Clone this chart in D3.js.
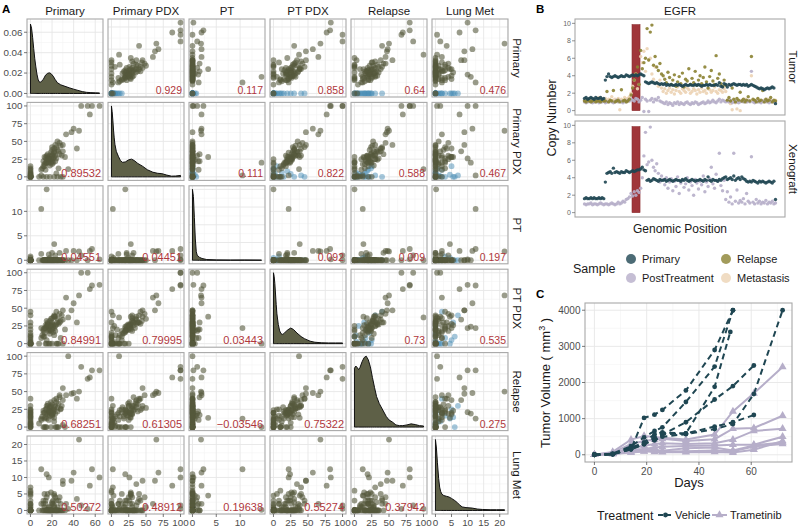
<!DOCTYPE html>
<html><head><meta charset="utf-8">
<script src="https://cdn.jsdelivr.net/npm/d3@7"></script>
<style>body{margin:0;background:#fff} svg{font-family:"Liberation Sans",Arial,Helvetica,sans-serif}</style>
</head><body><svg id="c" width="800" height="528"></svg>
<script>
// ===== Panel A data (one entry per sample) =====
const varNames = ["Primary","Primary PDX","PT","PT PDX","Relapse","Lung Met"];
const primary = [0,0,0,0,0,0,0,0,0,0,0,0,0,0,0,0,0,0,0,0, 0,0, 64,57,55,47,53,45,40,38,35,30,43,33, 15,10,22,
 12,14,15,16,17,18,19,20,21,22,23,24,25,26,27,28,13,11,10,15,17,18,19,20,21,16,14,22,23,24,12,18,20,25,30,17,15,19,21,27,13,16,20,22,29,
 8,12,15,18,22,25,28,30,14,20,24,17,26,13,19,32,23];
const primaryPDX = [0,0,2,5,10,15,0,3,0,1,8,0,12,0,4,0,6,0,2,0, 0,2, 100,100,88,100,100,65,68,63,11,45,40,60, 20,2,28,
 15,20,25,28,22,30,35,38,32,40,45,42,50,36,48,44,18,12,10,20,26,24,28,22,26,32,27,34,30,26,22,16,30,38,36,20,30,25,20,32,28,24,42,36,30,
 0,0,0,0,0,0,0,0,10,18,5,25,12,15,20,28,22];
const pt = [0,0,0,0,0,0,0,0.5,0,0,0,0,0,0.8,0,0,0,0,0,0, 0,0, 0.2,2.3,1.9,1.0,0,1.8,1.9,0,0,0,0,1.9, 14.5,10.5,3.3,
 0,0,0,0,1.2,0,0,0,0,0,0,0,0,0,0,0,0,0,1.3,0,0,0.5,0,1.5,0,0,0,0,1.0,0,0,0,0,0,0,0,0,0,0,1.5,0,0,0,0,0,
 0,0,0,0,0,0,0,0,0,0,0,0,0,0,0,0,0];
const ptPDX = [0,0,0,2,0,5,10,0,15,0,20,3,0,8,25,0,12,30,40,45, 0,0, 83,82,77,100,100,68,57,47,37,47,30,65, 0,22,38,
 18,22,25,28,20,32,35,30,26,40,38,45,35,28,42,32,15,12,8,24,22,19,26,20,24,30,26,22,18,27,20,14,36,30,34,18,32,25,16,30,22,27,28,38,40,
 0,10,5,0,12,0,8,0,0,0,0,0,0,10,18,20,25];
const relapse = [0,5,10,15,20,25,0,12,22,8,18,3,24,16,6,20,2,14,30,40, 0,4, 80,80,70,85,68,50,48,47,100,55,40,45, 0,12,13,
 20,25,30,18,22,28,35,32,24,38,30,40,27,33,45,26,12,15,10,19,21,16,23,17,20,30,14,25,19,35,23,28,18,22,38,24,26,30,20,42,20,33,24,28,30,
 5,0,12,20,8,0,25,3,0,15,0,10,0,0,0,0,0];
const lungMet = [0,0,1,0,2,5,6,4.5,0,1.5,0,0,0.5,3,0,0,0,5.5,7,2, 0,0, 10,12.5,7.5,1.5,0.5,21.5,11.5,9,0.5,9,3.5,2, 0.2,12.5,4.5,
 2,3,4,5,0,1,0,2.5,0,5,0,3,1,0,4,0,1,0,2,11,10,0,5.5,0,3,0,2,0,4,0,3,0,2,0,8,1,0,0,2,0,5,0,0,1.5,0,
 0,0,0,0,1,0,2,0,0,0,0,0,3,0,0,0,0];
const flagged = primary.map((v,k)=>k<20?1:0);
const tickVals = [[0,20,40,60],[0,25,50,75,100],[0,5,10],[0,25,50,75,100],[0,25,50,75,100],[0,5,10,15,20]];
const densTicks = [0,0.02,0.04,0.06];
// diagonal densities: [value, density] (Primary absolute, others relative)
const densPrimary = [[0,0.068],[1,0.064],[2,0.055],[3,0.044],[4,0.034],[5,0.026],[6,0.019],[7,0.014],[8,0.0115],[9,0.011],[10,0.0115],[12,0.014],[14,0.018],[16,0.0198],[17.5,0.0202],[19,0.0195],[21,0.017],[23,0.0135],[25,0.0105],[28,0.0085],[32,0.007],[36,0.0055],[40,0.0042],[44,0.003],[48,0.0018],[52,0.0011],[56,0.0008],[60,0.0006],[64,0.0005]];
const densPrimaryPDX = [[0,1],[1,0.92],[2,0.8],[3,0.66],[4,0.55],[5,0.46],[7,0.36],[10,0.29],[13,0.23],[16,0.205],[20,0.21],[25,0.24],[29,0.25],[33,0.23],[38,0.19],[45,0.15],[52,0.1],[60,0.065],[67,0.05],[73,0.045],[80,0.025],[87,0.01],[93,0.012],[100,0.02]];
const densPT = [[0,1],[0.2,0.9],[0.4,0.6],[0.6,0.3],[0.8,0.12],[1.0,0.07],[1.5,0.04],[2,0.025],[3,0.01],[5,0.005],[8,0.003],[11,0.004],[14.5,0.002]];
const densPTPDX = [[0,1],[1,0.95],[2,0.85],[3,0.7],[4,0.55],[5,0.42],[7,0.27],[9,0.18],[11,0.14],[13.5,0.13],[16,0.15],[20,0.19],[25,0.22],[29,0.2],[34,0.15],[40,0.1],[45,0.07],[53,0.035],[60,0.02],[70,0.012],[80,0.01],[90,0.01],[100,0.01]];
const densRelapse = [[0,0.83],[2,0.86],[4,0.84],[6,0.81],[8,0.84],[11,0.92],[14,0.98],[17,1.0],[20,0.95],[23,0.85],[26,0.7],[29,0.56],[32,0.43],[36,0.33],[41,0.24],[46,0.15],[50,0.1],[55,0.07],[60,0.03],[65,0.02],[70,0.02],[76,0.03],[82,0.045],[88,0.035],[94,0.02],[100,0.015]];
const densLungMet = [[0,1],[0.3,0.88],[0.6,0.68],[1,0.45],[1.3,0.33],[1.6,0.27],[2,0.23],[2.6,0.21],[3.4,0.2],[4.2,0.19],[5,0.17],[6,0.14],[6.8,0.11],[7.6,0.075],[8.3,0.05],[9.5,0.04],[11.5,0.033],[13,0.02],[14.6,0.014],[17,0.01],[19,0.01],[21.5,0.01]];
const corrUpper = ["0.929","0.117","0.858","0.64","0.476","0.111","0.822","0.588","0.467","0.092","0.009","0.197","0.73","0.535","0.275"];
const corrLower = ["0.89532","0.04551","0.04451","0.84991","0.79995","0.03443","0.68251","0.61305","\u22120.03546","0.75322","0.50272","0.48912","0.19638","0.55274","0.37942"];

// ===== Panel B data (copy number per genomic bin) =====
const tumorPrimary = [1.4,1.5,1.3,1.4,1.5,1.4,1.3,1.5,1.4,1.4,1.5,1.3,1.4,
 3.5,3.9,4.2,3.9,3.8,3.9,4.0,3.9,3.8,3.9,4.0,3.9,3.9,4.1,4.0,3.9,4.0,4.1,4.0,4.1,4.0,4.1,4.2,4.1,4.0,
 3.3,3.2,3.1,3.2,3.3,3.2,3.1,3.2,3.1,3.0,3.1,3.0,3.1,
 2.9,3.0,2.9,3.0,2.9,2.9,3.0,2.9,3.0,2.9,2.8,2.9,3.0,2.9,2.9,3.0,2.9,2.9,3.0,2.9,3.0,2.9,2.8,2.9,2.9,3.0,2.9,3.0,2.9,2.9,2.9,3.0,2.9,
 3.2,2.8,2.7,3.1,3.0,2.7,
 3.0,2.9,3.0,3.1,3.0,2.9,3.0,3.0,2.9,3.0,2.9,3.0,2.8,2.9,3.0,2.9,2.8,
 2.7,2.6,2.5,2.6,2.5,2.4,2.5,2.6,2.5,2.6,2.7,2.6, 0.8];
const tumorRelapse = [1.1,1.0,1.2,1.1,1.0,1.1,1.2,1.0,1.1,1.1,1.0,1.2,1.1,
 1.1,2.2,1.0,1.2,1.1,2.3,1.0,1.1,1.2,1.0,2.4,1.1,1.2,1.0,1.1,1.3,
 1.8,2.6,3.5,4.2,5.0,
 3.0,6.9,4.8,5.5,6.0,9.4,5.8,9.0,9.8,5.2,6.2,5.0,4.6,5.4,4.2,
 4.0,3.6,3.2,4.4,3.8,3.0,3.5,4.1,2.8,3.3,3.9,3.1,4.3,2.7,3.6,3.4,4.8,3.0,3.7,3.2,4.5,2.9,3.5,4.0,3.1,3.8,5.0,3.3,2.6,3.9,4.6,3.4,3.0,6.3,3.7,4.2,3.1,2.8,3.5,2.9,
 1.2,1.5,1.1,2.6,1.3,1.0,1.4,1.2,2.1,1.1,1.3,1.0,1.2,1.6,1.1,6.2,1.3,1.2,1.0,1.4,1.1,1.2,2.3,1.0,1.3,1.1,1.2,1.5,1.0,1.2,1.1];
const tumorPostTreatment = [1.0,0.9,1.0,1.1,1.0,0.9,1.0,1.0,1.1,0.9,1.0,1.0,1.1,0.9,1.0,1.0,1.1,1.0,0.9,1.0,1.2,1.0,1.1,1.0,0.9,1.1,1.0,1.2,1.1,
 1.3,1.2,1.1,1.4,1.3,1.0,1.2,1.5,-0.1,1.3,1.1,-0.1,1.2,1.4,1.0,1.3,1.2,1.5,1.1,1.0,
 0.9,0.8,1.0,0.7,0.9,0.8,0.6,0.9,0.8,1.0,0.7,0.9,0.8,0.7,0.9,1.0,0.8,0.7,0.9,0.8,1.0,0.9,0.7,0.8,0.9,1.0,0.8,0.9,1.1,0.9,1.0,1.2,1.0,0.9,1.1,1.3,1.0,1.2,1.1,1.0,
 1.1,1.0,1.2,0.9,1.0,1.1,1.0,0.9,1.0,1.1,1.0,1.2,1.0,1.1,1.0,4.5,1.0,0.9,1.1,1.0,1.0,0.9,1.1,1.0,1.2,1.0,0.9,1.0,1.1,1.0,1.0];
const tumorMetastasis = [1.2,1.3,1.1,1.2,1.4,1.2,1.3,1.1,1.2,1.5,1.2,1.3,1.2,1.4,1.1,1.3,1.2,1.6,1.2,1.3,1.1,1.4,0.1,1.3,1.2,1.5,1.3,1.4,1.6,
 2.0,2.8,3.5,4.2,2.5,3.0,6.2,5.5,6.8,4.5,7.1,5.8,6.0,4.2,3.6,5.0,3.2,2.8,3.5,2.6,
 2.2,2.5,2.0,2.3,2.6,2.1,2.4,1.9,2.3,2.7,2.2,2.0,2.5,2.3,2.1,2.6,2.4,2.0,2.2,2.5,2.3,1.9,2.4,2.1,2.6,2.2,2.3,2.0,2.5,2.4,2.1,2.3,2.7,2.2,2.0,2.4,2.3,2.1,2.5,2.2,
 1.2,1.0,0.8,0.1,1.1,0.9,0.2,1.0,0.0,1.2,1.1,1.3,1.0,1.2,1.1,4.0,1.2,1.0,1.1,1.3,1.2,1.0,1.1,1.2,1.0,1.3,1.1,1.2,1.0,1.1,1.2];
const xenoPrimary = [1.6,1.7,1.6,1.6,1.7,1.6,1.7,1.6,1.6,1.7,1.6,1.7,1.6,
 3.5,4.5,4.6,4.7,4.5,5.1,4.6,4.7,4.6,4.5,4.7,4.6,4.6,4.8,4.7,4.6,4.7,4.8,4.7,4.8,4.9,
 4.9,5.0,5.2,4.9,4.8,
 3.7,3.8,3.6,3.7,3.9,3.8,3.7,3.6,3.8,3.7,3.7,3.8,3.6,3.7,3.8,3.7,3.6,3.7,3.8,3.7,3.7,3.6,3.8,3.7,3.9,3.7,3.6,3.7,3.8,3.7,3.6,3.7,3.7,3.8,3.7,3.6,3.8,3.7,4.1,3.7,3.6,3.8,3.7,3.7,3.6,3.8,3.7,
 3.9,4.0,4.1,3.8,3.9,4.0,3.8,4.2,3.7,3.9,4.0,3.8,4.1,3.9,3.8,
 3.6,3.5,3.6,3.5,3.7,3.6,3.5,3.4,3.6,3.5,3.6,3.5,3.4,3.5,3.6,3.5,3.4,3.6, 1.5];
const xenoPostTreatment = [1.0,0.9,1.0,1.0,1.1,0.9,1.0,1.0,0.9,1.0,1.1,1.0,0.9,1.0,1.0,0.9,1.0,1.1,1.0,0.9,1.0,1.2,1.0,1.1,1.3,1.2,1.5,
 1.6,1.8,2.2,1.9,2.4,2.0,2.5,2.3,2.8,
 4.0,6.5,9.2,5.5,5.8,9.8,6.0,5.2,4.8,5.6,4.5,3.5,4.2,
 3.8,3.2,4.0,2.8,3.5,3.9,2.5,3.6,3.0,4.1,2.2,3.4,3.7,2.9,3.3,4.0,2.6,3.5,3.1,2.0,3.8,3.4,2.7,3.6,3.2,4.2,2.4,3.5,3.0,3.9,5.2,3.3,2.8,4.4,3.6,6.8,3.1,2.5,3.7,
 1.5,2.4,1.2,1.8,1.0,6.8,1.3,2.6,1.1,1.4,1.2,1.6,1.0,2.2,1.3,1.1,6.4,1.2,1.0,1.5,1.1,1.3,1.0,1.2,1.1,1.4,1.0,1.2,1.1,1.3,1.0,1.1];
const egfrRegion = [29.6, 34.6, 0, 9.85]; // bin start, bin end, ymin, ymax
const cnTicks = [0,2,4,6,8,10];
const sampleLegend = ["Primary","PostTreatment","Relapse","Metastasis"];

// ===== Panel C data =====
const days = [0,7,14,19,23,26,35,46,52,53,61,72];
const vehicleMice = [
 [0,20,150,1020,1110,1240,1780,2900,null,4000,null,null],
 [0,30,240,480,660,760,1460,2440,null,4000,null,null],
 [0,20,200,340,570,620,590,1880,3400,null,null,null],
 [0,20,180,300,420,560,900,1530,null,1900,2470,null],
 [0,10,150,290,480,570,590,780,null,900,1100,null],
 [0,20,160,300,400,500,570,710,null,850,1680,4000]];
const trametinibMice = [
 [0,80,420,520,490,470,420,560,null,1200,1700,2430],
 [0,60,300,380,420,440,380,430,null,720,740,1080],
 [0,40,200,250,300,320,300,320,null,420,660,720],
 [0,30,150,160,200,220,240,260,null,280,280,500],
 [0,30,120,140,120,110,180,200,null,120,260,340],
 [0,20,80,100,80,70,70,80,null,60,140,380],
 [0,20,60,90,150,90,100,120,null,100,230,300]];
const volTicks = [0,1000,2000,3000,4000];
const dayTicks = [0,20,40,60];

// ===== drawing =====
const svg = d3.select("#c");
const defs = svg.append("defs");
const TXT = "#1a1a1a", AX = "#4d4d4d";
const OLIVE = "#55583c", BLUE = "#4a8db5", RED = "#b0373c";
const C_PRI = "#1f4652", C_REL = "#8b8232", C_PT = "#b6aec9", C_MET = "#ecd3b4";

function expand(d){const p=(d[1]-d[0])*0.05;return [d[0]-p,d[1]+p];}
function minors(t, dom){const s=t[1]-t[0],o=[];for(let v=t[0]-s/2;v<=dom[1];v+=s) if(v>=dom[0]) o.push(v);return o;}
function grid(g, xsc, ysc, xt, yt, x0, x1, y0, y1){
  const xd=xsc.domain(), yd=ysc.domain();
  minors(xt,xd).forEach(v=>g.append("line").attr("x1",xsc(v)).attr("x2",xsc(v)).attr("y1",y0).attr("y2",y1).attr("stroke","#f3f3f3").attr("stroke-width",0.6));
  minors(yt,yd).forEach(v=>g.append("line").attr("y1",ysc(v)).attr("y2",ysc(v)).attr("x1",x0).attr("x2",x1).attr("stroke","#f3f3f3").attr("stroke-width",0.6));
  xt.filter(v=>v>=xd[0]&&v<=xd[1]).forEach(v=>g.append("line").attr("x1",xsc(v)).attr("x2",xsc(v)).attr("y1",y0).attr("y2",y1).attr("stroke","#e6e6e6").attr("stroke-width",0.9));
  yt.filter(v=>v>=yd[0]&&v<=yd[1]).forEach(v=>g.append("line").attr("y1",ysc(v)).attr("y2",ysc(v)).attr("x1",x0).attr("x2",x1).attr("stroke","#e6e6e6").attr("stroke-width",0.9));
}

// ---- Panel A ----
const cols = [primary, primaryPDX, pt, ptPDX, relapse, lungMet];
const dens = [densPrimary, densPrimaryPDX, densPT, densPTPDX, densRelapse, densLungMet];
const AX0=27, SX=81, PW=76, AY0=19, SY=83.4, PH=78;
const xs = cols.map((c,j)=>d3.scaleLinear().domain(expand(d3.extent(c))).range([AX0+j*SX, AX0+j*SX+PW]));
const ys = cols.map((c,i)=>d3.scaleLinear().domain(expand(d3.extent(c))).range([AY0+i*SY+PH, AY0+i*SY]));
const dy0 = d3.scaleLinear().domain(expand([0,0.0695])).range([AY0+PH, AY0]);
let ku=0, kl=0;
for(let i=0;i<6;i++) for(let j=0;j<6;j++){
  const x0=AX0+j*SX, y0=AY0+i*SY;
  const id="clA"+i+"_"+j;
  defs.append("clipPath").attr("id",id).append("rect").attr("x",x0).attr("y",y0).attr("width",PW).attr("height",PH);
  const g = svg.append("g");
  g.append("rect").attr("x",x0).attr("y",y0).attr("width",PW).attr("height",PH).attr("fill","#fff");
  const inner = g.append("g").attr("clip-path","url(#"+id+")");
  if(i===j){
    const ysc = i===0 ? dy0 : d3.scaleLinear().domain(expand([0,1])).range([y0+PH,y0]);
    grid(inner, xs[j], ysc, tickVals[j], i===0?densTicks:[0,0.25,0.5,0.75,1], x0, x0+PW, y0, y0+PH);
    const area = d3.area().x(d=>xs[j](d[0])).y0(ysc(0)).y1(d=>ysc(d[1]));
    inner.append("path").datum(dens[j]).attr("d",area).attr("fill","#5e6047").attr("stroke","#111").attr("stroke-width",1);
  } else {
    grid(inner, xs[j], ys[i], tickVals[j], tickVals[i], x0, x0+PW, y0, y0+PH);
    const idx = d3.range(primary.length);
    if(j>i){
      inner.selectAll(null).data(idx.filter(k=>flagged[k])).enter().append("circle")
        .attr("cx",k=>xs[j](cols[j][k])).attr("cy",k=>ys[i](cols[i][k])).attr("r",2.9)
        .attr("fill",BLUE).attr("fill-opacity",0.5);
    }
    inner.selectAll(null).data(idx.filter(k=>!(j>i && flagged[k]))).enter().append("circle")
      .attr("cx",k=>xs[j](cols[j][k])).attr("cy",k=>ys[i](cols[i][k])).attr("r",2.9)
      .attr("fill",OLIVE).attr("fill-opacity",0.6);
    const lab = j>i ? corrUpper[ku++] : corrLower[kl++];
    g.append("text").attr("x",x0+PW-2).attr("y",y0+PH-3).attr("text-anchor","end")
      .attr("font-size",j>i?10.5:11).attr("fill",RED).text(lab);
  }
  g.append("rect").attr("x",x0).attr("y",y0).attr("width",PW).attr("height",PH).attr("fill","none").attr("stroke","#a8a8a8").attr("stroke-width",1.1);
}
// column headers & row strips
varNames.forEach((n,j)=>{
  svg.append("text").attr("x",AX0+j*SX+PW/2).attr("y",15).attr("text-anchor","middle").attr("font-size",11.5).attr("fill",TXT).text(n);
  svg.append("text").attr("transform",`translate(517,${AY0+j*SY+PH/2}) rotate(90)`).attr("dy","0.35em").attr("text-anchor","middle").attr("font-size",11.5).attr("fill",TXT).text(n);
});
// left axis labels
for(let i=0;i<6;i++){
  const sc = i===0?dy0:ys[i], tv = i===0?densTicks:tickVals[i];
  tv.forEach(v=>{
    svg.append("line").attr("x1",AX0-3).attr("x2",AX0).attr("y1",sc(v)).attr("y2",sc(v)).attr("stroke","#555").attr("stroke-width",0.8);
    svg.append("text").attr("x",AX0-4.5).attr("y",sc(v)).attr("dy","0.35em").attr("text-anchor","end").attr("font-size",9.8).attr("fill",AX).text(i===0?d3.format(".2f")(v):v);
  });
}
// bottom axis labels
const ab = AY0+5*SY+PH;
for(let j=0;j<6;j++){
  tickVals[j].forEach(v=>{
    svg.append("line").attr("x1",xs[j](v)).attr("x2",xs[j](v)).attr("y1",ab).attr("y2",ab+3).attr("stroke","#555").attr("stroke-width",0.8);
    svg.append("text").attr("x",xs[j](v)).attr("y",ab+12).attr("text-anchor","middle").attr("font-size",9.8).attr("fill",AX).text(v);
  });
}
svg.append("text").attr("x",2).attr("y",13).attr("font-weight","bold").attr("font-size",11.5).attr("fill","#000").text("A");

// ---- Panel B ----
svg.append("text").attr("x",536).attr("y",13).attr("font-weight","bold").attr("font-size",11.5).attr("fill","#000").text("B");
const bx = d3.scaleLinear().domain([0,119]).range([584.5,775.5]);
const BL=575, BR=785, BH=96;
const facets = [
  {name:"Tumor", top:19, series:[[tumorMetastasis,C_MET],[tumorPostTreatment,C_PT],[tumorRelapse,C_REL],[tumorPrimary,C_PRI]]},
  {name:"Xenograft", top:121, series:[[xenoPostTreatment,C_PT],[xenoPrimary,C_PRI]]}];
facets.forEach(f=>{
  const by = d3.scaleLinear().domain([-0.5,10.5]).range([f.top+BH, f.top]);
  svg.append("rect").attr("x",BL).attr("y",f.top).attr("width",BR-BL).attr("height",BH).attr("fill","#fff");
  svg.append("rect").attr("x",bx(egfrRegion[0])).attr("width",bx(egfrRegion[1])-bx(egfrRegion[0]))
    .attr("y",by(egfrRegion[3])).attr("height",by(egfrRegion[2])-by(egfrRegion[3]))
    .attr("fill","#a0363a").attr("stroke","#8a2b2e").attr("stroke-width",0.6);
  f.series.forEach(([vals,col])=>{
    svg.append("g").selectAll("circle").data(vals).enter().append("circle")
      .attr("cx",(d,k)=>bx(k)).attr("cy",d=>by(d)).attr("r",1.7).attr("fill",col).attr("fill-opacity",0.9);
  });
  svg.append("rect").attr("x",BL).attr("y",f.top).attr("width",BR-BL).attr("height",BH).attr("fill","none").attr("stroke","#a8a8a8").attr("stroke-width",1.1);
  cnTicks.forEach(v=>{
    svg.append("line").attr("x1",BL-3).attr("x2",BL).attr("y1",by(v)).attr("y2",by(v)).attr("stroke","#666").attr("stroke-width",0.7);
    svg.append("text").attr("x",BL-4).attr("y",by(v)).attr("dy","0.35em").attr("text-anchor","end").attr("font-size",7).attr("fill","#666").text(v);
  });
  svg.append("text").attr("transform",`translate(793,${f.top+BH/2}) rotate(90)`).attr("dy","0.35em").attr("text-anchor","middle").attr("font-size",11.5).attr("fill",TXT).text(f.name);
});
svg.append("text").attr("x",680).attr("y",15).attr("text-anchor","middle").attr("font-size",11.5).attr("fill",TXT).text("EGFR");
svg.append("text").attr("transform","translate(556,118) rotate(-90)").attr("text-anchor","middle").attr("font-size",12.5).attr("fill",TXT).text("Copy Number");
svg.append("text").attr("x",680).attr("y",233).attr("text-anchor","middle").attr("font-size",12).attr("fill",TXT).text("Genomic Position");
// legend
svg.append("text").attr("x",573).attr("y",273).attr("font-size",12.5).attr("fill",TXT).text("Sample");
const legCols = [C_PRI,C_PT,C_REL,C_MET];
const legPos = [[631,259],[631,278],[726,259],[726,278]];
sampleLegend.forEach((n,k)=>{
  svg.append("circle").attr("cx",legPos[k][0]).attr("cy",legPos[k][1]).attr("r",5).attr("fill",legCols[k]).attr("fill-opacity",0.8);
  svg.append("text").attr("x",legPos[k][0]+11).attr("y",legPos[k][1]).attr("dy","0.35em").attr("font-size",11).attr("fill",TXT).text(n);
});

// ---- Panel C ----
svg.append("text").attr("x",536).attr("y",298).attr("font-weight","bold").attr("font-size",11.5).attr("fill","#000").text("C");
const CL=585, CR=792, CT=303, CB=462;
const cx = d3.scaleLinear().domain([-3.6,75.6]).range([CL,CR]);
const cy = d3.scaleLinear().domain([-200,4200]).range([CB,CT]);
svg.append("rect").attr("x",CL).attr("y",CT).attr("width",CR-CL).attr("height",CB-CT).attr("fill","#fff");
grid(svg.append("g"), cx, cy, dayTicks, volTicks, CL, CR, CT, CB);
const line = d3.line().x(d=>cx(d[0])).y(d=>cy(d[1]));
const pts = m=>days.map((d,k)=>[d,m[k]]).filter(p=>p[1]!=null);
trametinibMice.forEach(m=>{
  const p=pts(m);
  svg.append("path").datum(p).attr("d",line).attr("fill","none").attr("stroke",C_PT).attr("stroke-width",2);
  svg.append("g").selectAll("path").data(p).enter().append("path")
    .attr("d",d3.symbol(d3.symbolTriangle,28)).attr("transform",d=>`translate(${cx(d[0])},${cy(d[1])})`).attr("fill",C_PT);
});
vehicleMice.forEach(m=>{
  const p=pts(m);
  svg.append("path").datum(p).attr("d",line).attr("fill","none").attr("stroke",C_PRI).attr("stroke-width",2).attr("stroke-dasharray","6,4");
  svg.append("g").selectAll("circle").data(p).enter().append("circle")
    .attr("cx",d=>cx(d[0])).attr("cy",d=>cy(d[1])).attr("r",2.4).attr("fill",C_PRI);
});
svg.append("rect").attr("x",CL).attr("y",CT).attr("width",CR-CL).attr("height",CB-CT).attr("fill","none").attr("stroke","#a8a8a8").attr("stroke-width",1.1);
volTicks.forEach(v=>{
  svg.append("line").attr("x1",CL-3).attr("x2",CL).attr("y1",cy(v)).attr("y2",cy(v)).attr("stroke","#555").attr("stroke-width",0.8);
  svg.append("text").attr("x",CL-4.5).attr("y",cy(v)).attr("dy","0.35em").attr("text-anchor","end").attr("font-size",10).attr("fill",AX).text(v);
});
dayTicks.forEach(v=>{
  svg.append("line").attr("x1",cx(v)).attr("x2",cx(v)).attr("y1",CB).attr("y2",CB+3).attr("stroke","#555").attr("stroke-width",0.8);
  svg.append("text").attr("x",cx(v)).attr("y",CB+12.5).attr("text-anchor","middle").attr("font-size",10).attr("fill",AX).text(v);
});
svg.append("text").attr("x",689).attr("y",487).attr("text-anchor","middle").attr("font-size",13).attr("fill",TXT).text("Days");
const yt = svg.append("text").attr("transform","translate(550,383) rotate(-90)").attr("text-anchor","middle").attr("font-size",13).attr("fill",TXT);
yt.append("tspan").text("Tumor Volume ( mm");
yt.append("tspan").attr("baseline-shift","super").attr("font-size",9).text("3");
yt.append("tspan").text(" )");
// legend C
svg.append("text").attr("x",597).attr("y",520).attr("font-size",12.5).attr("fill",TXT).text("Treatment");
svg.append("line").attr("x1",658).attr("x2",673).attr("y1",515).attr("y2",515).attr("stroke",C_PRI).attr("stroke-width",2).attr("stroke-dasharray","5,3");
svg.append("circle").attr("cx",665.5).attr("cy",515).attr("r",2.4).attr("fill",C_PRI);
svg.append("text").attr("x",675).attr("y",519).attr("font-size",11).attr("fill",TXT).text("Vehicle");
svg.append("line").attr("x1",712).attr("x2",727).attr("y1",515).attr("y2",515).attr("stroke",C_PT).attr("stroke-width",2);
svg.append("path").attr("d",d3.symbol(d3.symbolTriangle,28)).attr("transform","translate(719.5,515)").attr("fill",C_PT);
svg.append("text").attr("x",730).attr("y",519).attr("font-size",11).attr("fill",TXT).text("Trametinib");
</script></body></html>
